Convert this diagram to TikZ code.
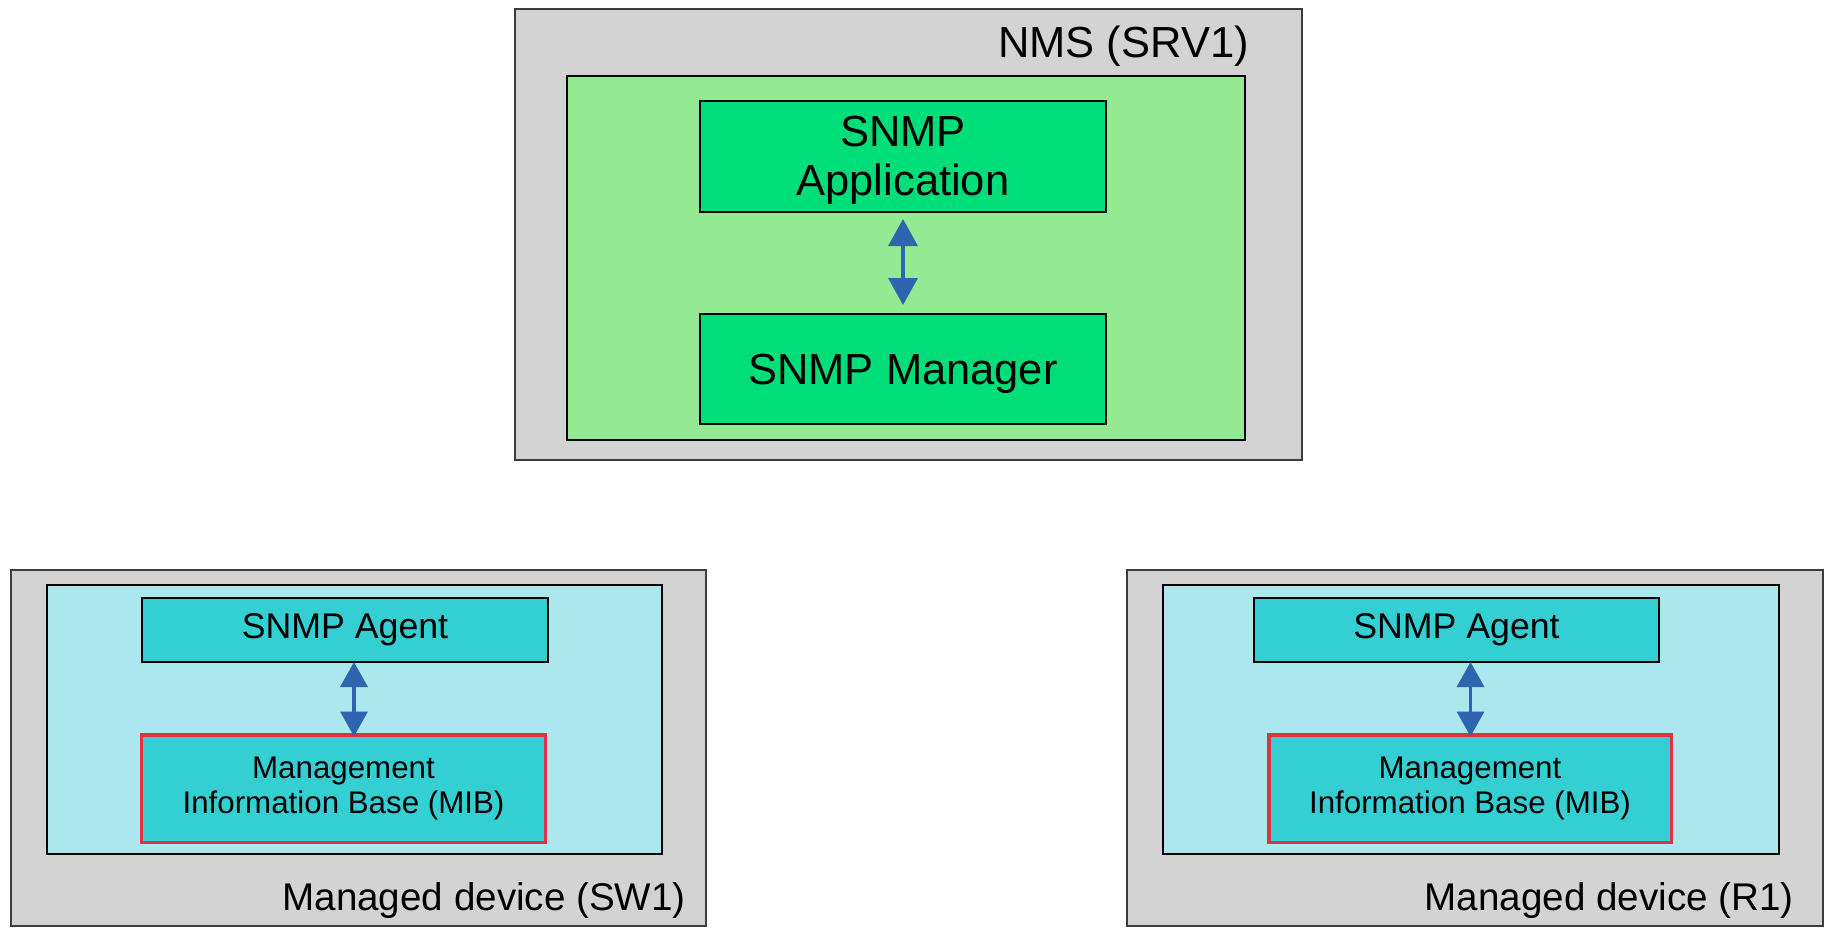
\documentclass[tikz,border=0pt]{standalone}
\usepackage{fontspec}
\setmainfont{Liberation Sans}
\usetikzlibrary{arrows.meta}
\definecolor{grayfill}{RGB}{211,211,211}
\definecolor{grayline}{RGB}{60,60,60}
\definecolor{lgreen}{RGB}{147,234,147}
\definecolor{dgreen}{RGB}{0,222,122}
\definecolor{lcyan}{RGB}{171,231,236}
\definecolor{dcyan}{RGB}{51,207,211}
\definecolor{mibred}{RGB}{224,49,69}
\definecolor{arrowblue}{RGB}{47,100,174}
\tikzset{
  box/.style={rectangle, inner sep=0pt, outer sep=0pt, align=center, text=black},
  outerbox/.style={box, fill=grayfill, draw=grayline, line width=1.5bp},
  greenbox/.style={box, fill=lgreen, draw=black, line width=1.2bp},
  cyanbox/.style={box, fill=lcyan, draw=black, line width=1.2bp},
  appbox/.style={box, fill=dgreen, draw=black, line width=1.2bp, font=\fontsize{43.5bp}{49bp}\selectfont},
  agentbox/.style={box, fill=dcyan, draw=black, line width=1.2bp, font=\fontsize{35.7bp}{42bp}\selectfont},
  mibbox/.style={box, fill=dcyan, draw=mibred, line width=3.5bp, font=\fontsize{31.3bp}{35bp}\selectfont},
  biarrow/.style={draw=arrowblue, line width=3.5bp, {Triangle[width=27bp,length=25bp]}-{Triangle[width=27bp,length=25bp]}, arrowblue},
  bigarrow/.style={draw=arrowblue, line width=3.5bp, {Triangle[width=29bp,length=27bp]}-{Triangle[width=29bp,length=27bp]}, arrowblue},
  toplabel/.style={inner sep=0pt, font=\fontsize{43.5bp}{48bp}\selectfont},
  devlabel/.style={inner sep=0pt, font=\fontsize{38.6bp}{45bp}\selectfont},
}
\begin{document}
\begin{tikzpicture}[x=1bp, y=-1bp]
\useasboundingbox (0,0) rectangle (1831,933);
\fill[white] (0,0) rectangle (1831,933);

% NMS (SRV1)
\node[outerbox, minimum width=787bp, minimum height=451bp] (nms) at (908.5,234.5) {};
\node[greenbox, minimum width=678bp, minimum height=364bp] (nmsin) at (906,258) {};
\node[appbox, minimum width=406bp, minimum height=111bp, text depth=2bp] (app) at (903,156.5) {SNMP\\Application};
\node[appbox, minimum width=406bp, minimum height=110bp, text depth=0pt] (mgr) at (903,369) {SNMP Manager};
\node[toplabel, anchor=base east] (nmslabel) at (1249,57.5) {NMS (SRV1)};
\draw[bigarrow, shorten <=7bp, shorten >=9bp] (app.south) -- (mgr.north);

% Managed device (SW1)
\node[outerbox, minimum width=695bp, minimum height=356bp] (sw) at (358.5,748) {};
\node[cyanbox, minimum width=615bp, minimum height=269bp] (swin) at (354.5,719.5) {};
\node[agentbox, minimum width=406bp, minimum height=64bp] (agent1) at (345,630) {SNMP Agent};
\node[mibbox, minimum width=403.5bp, minimum height=107.5bp] (mib1) at (343.5,788.5) {Management\\Information Base (MIB)};
\node[devlabel, anchor=base east] (swlabel) at (686,910.5) {Managed device (SW1)};
\coordinate (ax1) at (354,0);
\draw[biarrow] (agent1.south -| ax1) -- ([yshift=-1.75bp]mib1.north -| ax1);

% Managed device (R1)
\node[outerbox, minimum width=696bp, minimum height=356bp] (r) at (1475,748) {};
\node[cyanbox, minimum width=616bp, minimum height=269bp] (rin) at (1471,719.5) {};
\node[agentbox, minimum width=405bp, minimum height=64bp] (agent2) at (1456.5,630) {SNMP Agent};
\node[mibbox, minimum width=402.5bp, minimum height=107.5bp] (mib2) at (1470,788.5) {Management\\Information Base (MIB)};
\node[devlabel, anchor=base east] (rlabel) at (1794,910.5) {Managed device (R1)};
\coordinate (ax2) at (1470.5,0);
\draw[biarrow] (agent2.south -| ax2) -- ([yshift=-1.75bp]mib2.north -| ax2);
\end{tikzpicture}
\end{document}
